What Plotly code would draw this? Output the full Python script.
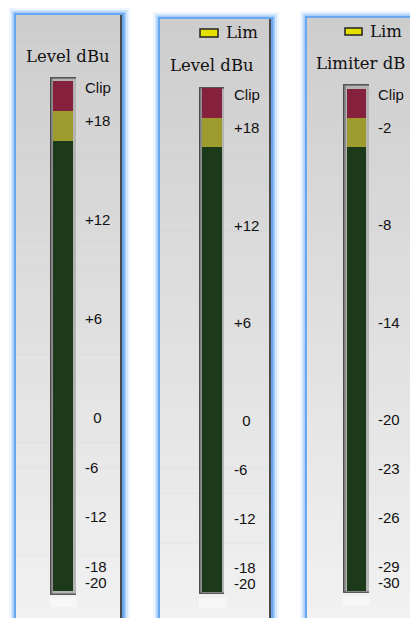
import numpy as np
import plotly.graph_objects as go

W, H = 410, 618

# ---------------- data ----------------
level_tick_db = [20, 18, 12, 6, 0, -6, -12, -18, -20]
level_tick_text = ["Clip", "+18", "+12", "+6", "\u00a0\u00a00", "-6", "-12", "-18", "-20"]
limiter_tick_db = [0, -2, -8, -14, -20, -23, -26, -29, -30]
limiter_tick_text = ["Clip", "-2", "-8", "-14", "-20", "-23", "-26", "-29", "-30"]

zone_names = ["Normal", "Warning", "Clip"]
zone_colors = ["#1c3a1a", "#9d9b2e", "#85203d"]
level_zone_lo = [-21.0, 16.8, 18.6]      # dBu
level_zone_hi = [16.8, 18.6, 20.4]
limiter_zone_lo = [-30.5, -3.2, -1.4]    # dB
limiter_zone_hi = [-3.2, -1.4, 0.4]

panel_titles = ["Level dBu", "Level dBu", "Limiter dB"]
lim_label = "Lim"


def level_pos(db):
    """Meter scale of the dBu meter: 2x resolution above 0 dBu."""
    db = np.asarray(db, dtype=float)
    return np.where(db >= 0, db, db / 2.0)


# ---------------- layout geometry (page pixels) ----------------
panels = [
    dict(left=16, top=15, right=122, bar=(53, 73), frame=(50, 76, 77, 595),
         y0=418, k=16.5, title=(68, 57), lim=None, foot=(50, 77, 597, 607)),
    dict(left=160, top=19, right=271, bar=(202, 222), frame=(199, 224, 87, 594),
         y0=421, k=16.3, title=(212, 66), lim=(200, 218, 29, 37, 224, 33), foot=(199, 226, 598, 608)),
    dict(left=307, top=18, right=425, bar=(347, 366), frame=(343, 369, 84, 593),
         y0=420, k=16.25, title=(360, 64), lim=(345, 362, 28, 35, 368, 31), foot=(343, 370, 596, 606)),
]


def px(x):
    return x / W


def py(y):
    return 1 - y / H


shapes = []
annotations = []
TITLE_FONT = dict(family="DejaVu Serif", size=16.5, color="#111111")


def rect(x0, y0, x1, y1, color, layer="below"):
    shapes.append(dict(type="rect", xref="paper", yref="paper",
                       x0=px(x0), x1=px(x1), y0=py(y1), y1=py(y0),
                       fillcolor=color, line=dict(width=0), layer=layer))


def mix(c1, c2, t):
    return "rgb(%d,%d,%d)" % tuple(int(round(a + (b - a) * t)) for a, b in zip(c1, c2))


fig = go.Figure()

for i, p in enumerate(panels):
    L, T, R = p["left"], p["top"], p["right"]
    # blue glow border
    rect(L - 7, T - 7, R + 8, H + 10, "#eef5fe")
    rect(L - 5, T - 5, R + 6, H + 10, "#d3e6fc")
    rect(L - 3.5, T - 3.5, R + 4, H + 10, "#a9cef8")
    rect(L - 2, T - 2, R + 2.5, H + 10, "#69a8f0")
    # gray gradient panel
    n = 48
    edges = np.linspace(T, H, n + 1)
    for j in range(n):
        t = j / (n - 1)
        rect(L, edges[j], R, edges[j + 1] + 0.6, mix((205, 205, 205), (241, 241, 241), t))
    # dark right edge
    rect(R - 2, T, R, H + 10, "#4a4a4a")
    # meter frame
    fx0, fx1, fy0, fy1 = p["frame"]
    rect(fx0, fy0, fx1, fy1, "#b4b4b4")
    rect(fx0, fy0, fx0 + 1.6, fy1, "#4b4b4b")
    rect(fx0, fy0, fx1, fy0 + 1.6, "#555555")
    rect(fx0 + 1.6, fy0 + 1.6, fx0 + 3, fy1, "#8e8e8e")
    rect(fx0, fy1 - 1.5, fx1, fy1, "#5a5a5a")
    # light foot below the meter
    a, b, c, d = p["foot"]
    rect(a, c, b, d, "#f7f7f7")
    # Lim indicator
    if p["lim"] is not None:
        bx0, bx1, by0, by1, tx, ty = p["lim"]
        shapes.append(dict(type="rect", xref="paper", yref="paper",
                           x0=px(bx0), x1=px(bx1), y0=py(by1), y1=py(by0),
                           fillcolor="#e4e000", line=dict(width=1.5, color="#222222"), layer="above"))
        annotations.append(dict(xref="paper", yref="paper", x=px(tx), y=py(ty),
                                xanchor="left", yanchor="middle", showarrow=False,
                                text=lim_label, font=TITLE_FONT))
    # title
    cx, cy = p["title"]
    annotations.append(dict(xref="paper", yref="paper", x=px(cx), y=py(cy),
                            xanchor="center", yanchor="middle", showarrow=False,
                            text=panel_titles[i], font=TITLE_FONT))

    # axes
    suffix = "" if i == 0 else str(i + 1)
    xa, ya = "x" + suffix, "y" + suffix
    top_val = p["y0"] / p["k"]
    bot_val = (p["y0"] - H) / p["k"]
    if i < 2:
        lo_v = level_pos(level_zone_lo)
        hi_v = level_pos(level_zone_hi)
        tickvals = list(level_pos(level_tick_db))
        ticktext = level_tick_text
        yrange = [bot_val, top_val]
    else:
        lo_v = np.asarray(limiter_zone_lo)
        hi_v = np.asarray(limiter_zone_hi)
        tickvals = limiter_tick_db
        ticktext = limiter_tick_text
        yrange = [bot_val - 20, top_val - 20]

    for z in range(3):
        fig.add_trace(go.Bar(x=[0], y=[hi_v[z] - lo_v[z]], base=[lo_v[z]], width=1,
                             name=zone_names[z], marker=dict(color=zone_colors[z], line=dict(width=0)),
                             xaxis=xa, yaxis=ya, showlegend=False, hoverinfo="skip"))

    bx0, bx1 = p["bar"]
    fig.update_layout(**{
        ("xaxis" + suffix): dict(domain=[px(bx0), px(bx1)], range=[-0.5, 0.5], visible=False,
                                 anchor=ya, fixedrange=True),
        ("yaxis" + suffix): dict(domain=[0, 1], range=yrange, anchor=xa, side="right",
                                 tickmode="array", tickvals=tickvals, ticktext=ticktext,
                                 ticks="", showgrid=False, zeroline=False, showline=False,
                                 ticklabelstandoff=11,
                                 tickfont=dict(family="Liberation Sans", size=15, color="#111111"),
                                 fixedrange=True),
    })

fig.update_layout(
    width=W, height=H, margin=dict(l=0, r=0, t=0, b=0),
    paper_bgcolor="#ffffff", plot_bgcolor="rgba(0,0,0,0)",
    barmode="overlay", bargap=0, showlegend=False,
    shapes=shapes, annotations=annotations,
)

fig.write_html(
    "out.html",
    config={"displayModeBar": False},
    post_script="document.body.style.margin='0';document.body.style.overflow='hidden';",
)
